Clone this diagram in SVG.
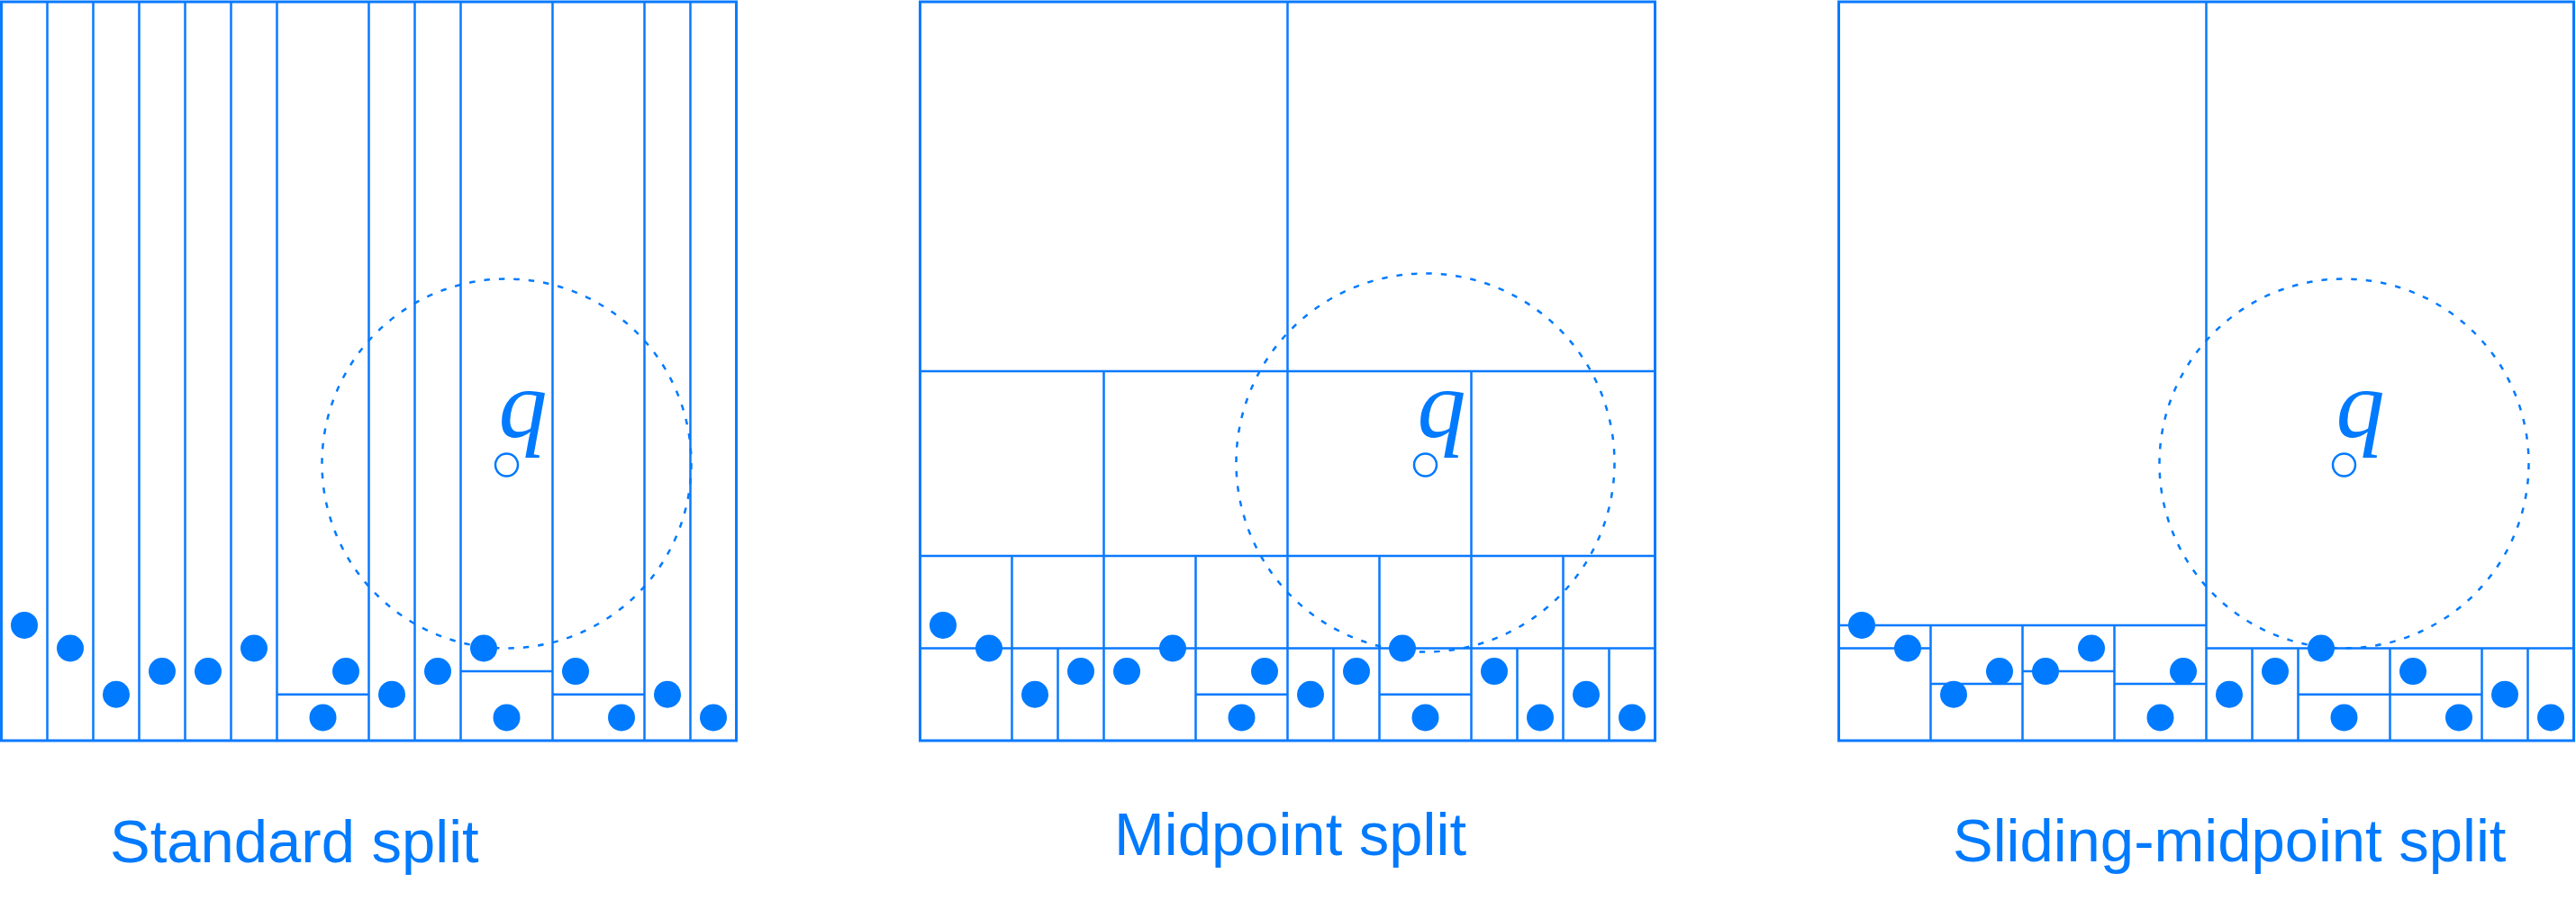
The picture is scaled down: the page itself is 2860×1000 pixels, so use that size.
<svg xmlns="http://www.w3.org/2000/svg" xmlns:xlink="http://www.w3.org/1999/xlink" width="2860" height="1000" viewBox="0 0 2860 1000">
<style>
.bd{fill:none;stroke:#0a7aff;stroke-width:3}
.ln{fill:none;stroke:#0a7aff;stroke-width:2.5}
.pt{fill:#007aff}
.qp{fill:#fff;stroke:#007aff;stroke-width:2.5}
.rng{fill:none;stroke:#007aff;stroke-width:2.5;stroke-dasharray:6.5 10}
.q{font-family:"Liberation Serif","Times New Roman",serif;font-style:italic;font-size:108px;fill:#007aff}
.lbl{font-family:"Liberation Sans",Arial,sans-serif;font-size:67px;fill:#007aff}
</style>
<defs>
<circle id="dot" class="pt" r="15"/>
<g id="points">
<use xlink:href="#dot" x="25.5" y="693.9"/>
<use xlink:href="#dot" x="76.5" y="719.5"/>
<use xlink:href="#dot" x="127.5" y="770.75"/>
<use xlink:href="#dot" x="178.5" y="745.1"/>
<use xlink:href="#dot" x="229.5" y="745.1"/>
<use xlink:href="#dot" x="280.5" y="719.5"/>
<use xlink:href="#dot" x="382.5" y="745.1"/>
<use xlink:href="#dot" x="357" y="796.4"/>
<use xlink:href="#dot" x="433.5" y="770.75"/>
<use xlink:href="#dot" x="484.5" y="745.1"/>
<use xlink:href="#dot" x="535.5" y="719.5"/>
<use xlink:href="#dot" x="561" y="796.4"/>
<use xlink:href="#dot" x="637.5" y="745.1"/>
<use xlink:href="#dot" x="688.5" y="796.4"/>
<use xlink:href="#dot" x="739.5" y="770.75"/>
<use xlink:href="#dot" x="790.5" y="796.4"/>
</g>
<g id="query">
<circle class="qp" cx="561" cy="516" r="12.5"/>
<text class="q" x="552" y="485">q</text>
</g>
</defs>

<g id="standard-split" transform="translate(1.5,0)">
<rect class="bd" x="0" y="2" width="816" height="820"/>
<path class="ln" d="M51 2V822M102 2V822M153 2V822M204 2V822M255 2V822M306 2V822M408 2V822M459 2V822M510 2V822M612 2V822M714 2V822M765 2V822M306 770.75H408M510 745.1H612M612 770.75H714"/>
<circle class="rng" cx="561" cy="514.5" r="205"/>
<use xlink:href="#points"/>
<use xlink:href="#query"/>
<text class="lbl" x="120.5" y="957">Standard split</text>
</g>

<g id="midpoint-split" transform="translate(1021.5,0)">
<rect class="bd" x="0" y="2" width="816" height="820"/>
<path class="ln" d="M408 2V822M0 412H816M204 412V822M612 412V822M0 617H816M102 617V822M306 617V822M510 617V822M714 617V822M0 719.5H816M153 719.5V822M459 719.5V822M663 719.5V822M765 719.5V822M306 770.75H408M510 770.75H612"/>
<circle class="rng" cx="561" cy="513.5" r="210"/>
<use xlink:href="#points"/>
<use xlink:href="#query"/>
<text class="lbl" x="215.5" y="949">Midpoint split</text>
</g>

<g id="sliding-midpoint-split" transform="translate(2041.5,0)">
<rect class="bd" x="0" y="2" width="816" height="820"/>
<path class="ln" d="M408 2V822M0 693.9H408M102 693.9V822M204 693.9V822M306 693.9V822M0 719.5H102M102 759H204M204 745.1H306M306 759H408M408 719.5H816M459 719.5V822M510 719.5V822M612 719.5V822M714 719.5V822M765 719.5V822M510 770.75H714"/>
<circle class="rng" cx="561" cy="514.5" r="205"/>
<use xlink:href="#points"/>
<use xlink:href="#query"/>
<text class="lbl" x="126.5" y="956">Sliding-midpoint split</text>
</g>
</svg>
